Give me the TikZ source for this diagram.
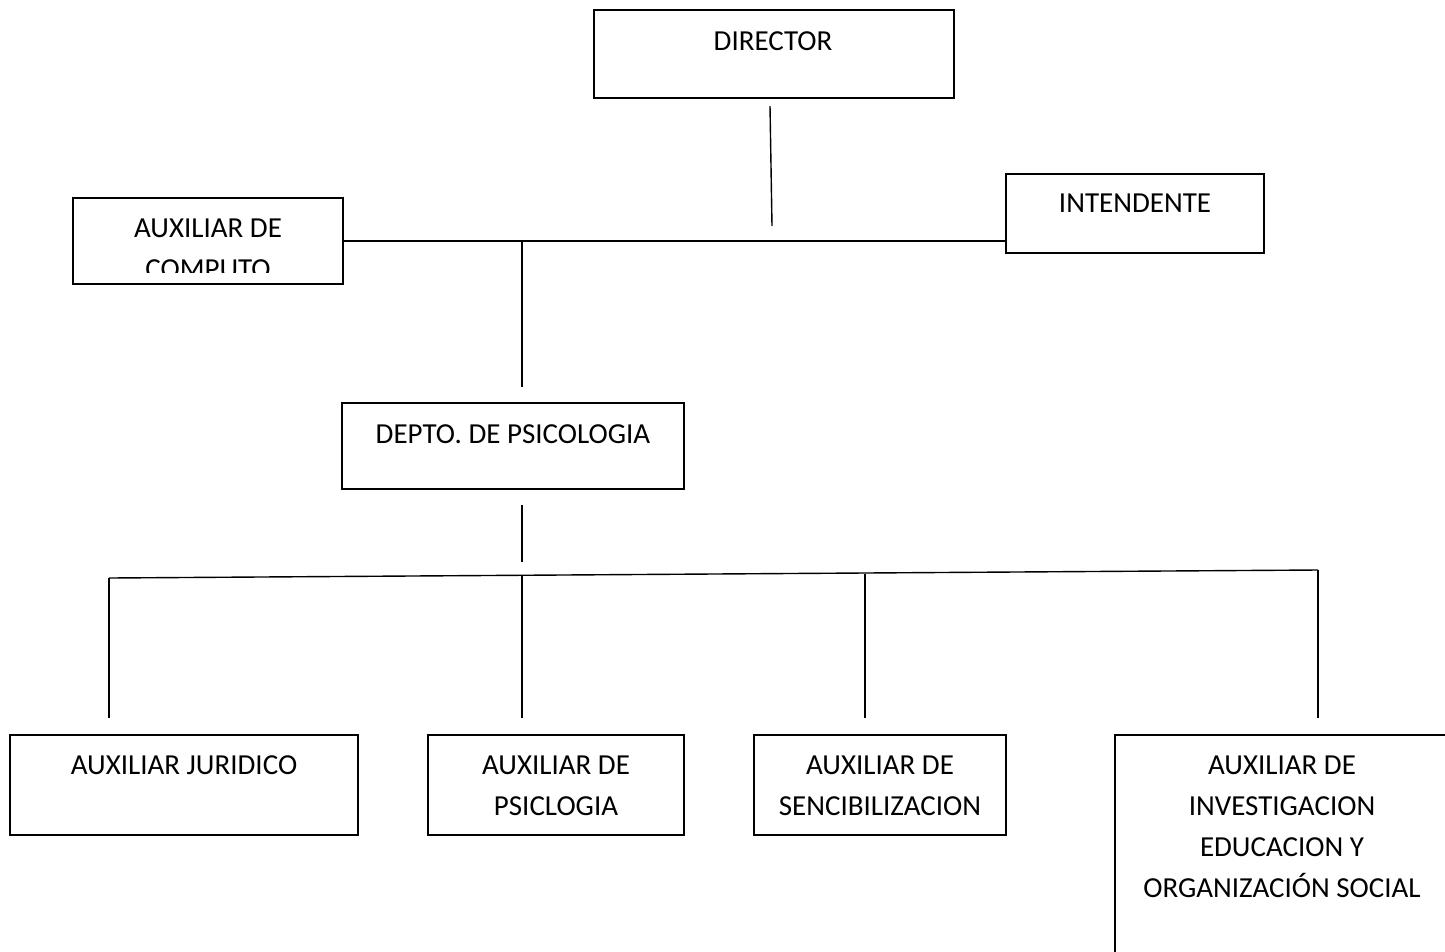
\documentclass[tikz,border=0pt]{standalone}
\usepackage{fontspec}
\setmainfont{Carlito}
\begin{document}
\begin{tikzpicture}[x=1pt,y=-1pt,
  box/.style={draw=black,line width=1.4pt,inner sep=0pt,rectangle},
  lab/.style={font=\fontsize{29}{41}\selectfont,align=center,inner sep=0pt,anchor=base},
  conn/.style={draw=black,line width=1.4pt}]
\clip (0,0) rectangle (1445,951);
\fill[white] (0,0) rectangle (1445,951);
% boxes
\node[box,minimum width=360pt,minimum height=88pt] (dir) at (774,54) {};
\node[box,minimum width=270pt,minimum height=86pt] (comp) at (208,241) {};
\node[box,minimum width=258pt,minimum height=79pt] (int) at (1135,213.5) {};
\node[box,minimum width=342pt,minimum height=86pt] (dep) at (513,446) {};
\node[box,minimum width=348pt,minimum height=100pt] (jur) at (184,785) {};
\node[box,minimum width=256pt,minimum height=100pt] (psi) at (556,785) {};
\node[box,minimum width=252pt,minimum height=100pt] (sen) at (880,785) {};
\draw[line width=1.4pt] (1115,970) -- (1115,735) -- (1460,735);
% labels (anchor base = baseline of the last line)
\node[lab] (tdir) at (773,50) {DIRECTOR};
\begin{scope}
\clip (73,198) rectangle (343,272);
\node[lab] (tcomp) at (208,278) {AUXILIAR DE\\COMPUTO};
\end{scope}
\node[lab] (tint) at (1135,212) {INTENDENTE};
\node[lab] (tdep) at (513,443) {DEPTO. DE PSICOLOGIA};
\node[lab] (tjur) at (184,774) {AUXILIAR JURIDICO};
\node[lab] (tpsi) at (556,815) {AUXILIAR DE\\PSICLOGIA};
\node[lab] (tsen) at (880,815) {AUXILIAR DE\\SENCIBILIZACION};
\node[lab] (tinv) at (1282,897) {AUXILIAR DE\\INVESTIGACION\\EDUCACION Y\\ORGANIZACIÓN SOCIAL};
% connector coordinates
\coordinate (d1) at (770,106);
\coordinate (d2) at (772,226);
\coordinate (hl) at (comp.east);
\coordinate (hr) at (1006,241);
\coordinate (v1) at (522,241);
\coordinate (v2) at (522,387);
\coordinate (p1) at (522,505);
\coordinate (p2) at (522,562);
\coordinate (bl) at (109,578);
\coordinate (br) at (1318,570);
\coordinate (b2t) at (522,576);
\coordinate (b3t) at (865,574);
% connectors
\draw[conn] (d1) -- (d2);
\draw[conn] (hl) -- (hr);
\draw[conn] (v1) -- (v2);
\draw[conn] (p1) -- (p2);
\draw[conn] (bl) -- (br);
\draw[conn] (bl) -- (109,718);
\draw[conn] (b2t) -- (522,718);
\draw[conn] (b3t) -- (865,718);
\draw[conn] (br) -- (1318,718);
\end{tikzpicture}
\end{document}
